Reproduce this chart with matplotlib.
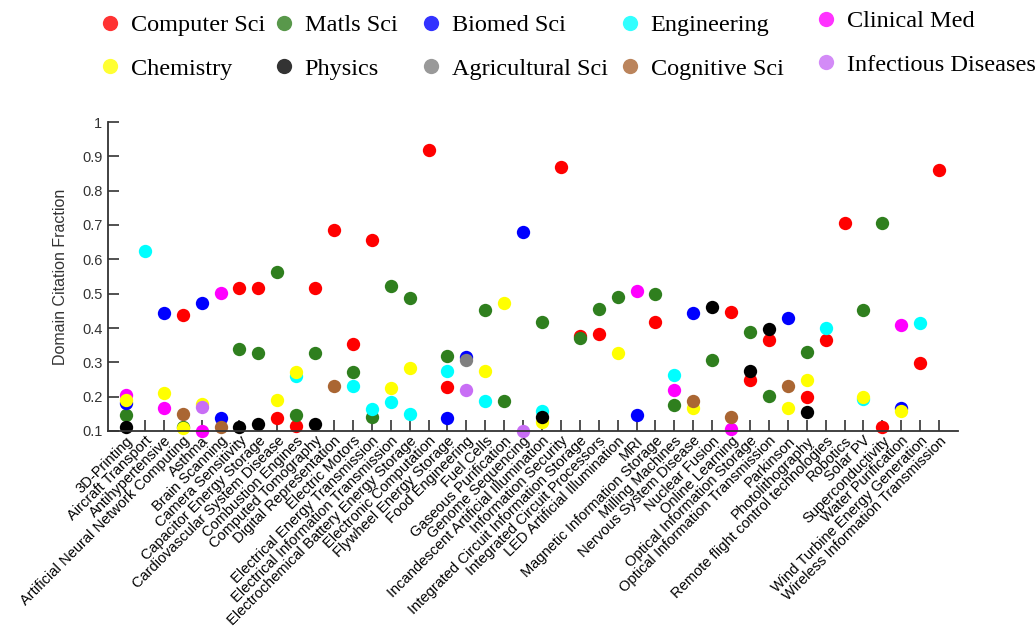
import matplotlib
matplotlib.use("Agg")
import matplotlib.pyplot as plt
from matplotlib.lines import Line2D
import numpy as np

nan = np.nan

categories = [
    "3D-Printing", "Aircraft Transport", "Antihypertensive",
    "Artificial Neural Network Computing", "Asthma", "Brain Scanning",
    "Camera Sensitivity", "Capacitor Energy Storage",
    "Cardiovascular System Disease", "Combustion Engines", "Computed Tomography",
    "Digital Representation", "Electric Motors", "Electrical Energy Transmission",
    "Electrical Information Transmission", "Electrochemical Battery Energy Storage",
    "Electronic Computation", "Flywheel Energy Storage", "Food Engineering",
    "Fuel Cells", "Gaseous Purification", "Genome Sequencing",
    "Incandescent Artificial Illumination", "Information Security",
    "Integrated Circuit Information Storage", "Integrated Circuit Processors",
    "LED Artificial Illumination", "MRI", "Magnetic Information Storage",
    "Milling Machines", "Nervous System Disease", "Nuclear Fusion",
    "Online Learning", "Optical Information Storage",
    "Optical Information Transmission", "Parkinson", "Photolithography",
    "Remote flight control technologies", "Robotics", "Solar PV",
    "Superconductivity", "Water Purification", "Wind Turbine Energy Generation",
    "Wireless Information Transmission",
]

# index -> value, one dict per field
computer_sci = {3: 0.439, 6: 0.517, 7: 0.517, 8: 0.137, 9: 0.116, 10: 0.516,
                11: 0.686, 12: 0.352, 13: 0.655, 16: 0.918, 17: 0.228, 23: 0.870,
                24: 0.376, 25: 0.383, 28: 0.418, 32: 0.448, 33: 0.249, 34: 0.366,
                36: 0.198, 37: 0.366, 38: 0.706, 40: 0.111, 42: 0.297, 43: 0.861}
matls_sci = {0: 0.146, 3: 0.113, 6: 0.339, 7: 0.327, 8: 0.564, 9: 0.146,
             10: 0.327, 12: 0.271, 13: 0.140, 14: 0.521, 15: 0.486, 17: 0.318,
             19: 0.452, 20: 0.188, 22: 0.418, 24: 0.370, 25: 0.456, 26: 0.491,
             28: 0.500, 29: 0.176, 31: 0.306, 33: 0.387, 34: 0.202, 36: 0.331,
             39: 0.452, 40: 0.706}
biomed_sci = {0: 0.181, 2: 0.444, 4: 0.473, 5: 0.137, 17: 0.137, 18: 0.315,
              21: 0.680, 27: 0.146, 30: 0.443, 35: 0.430, 41: 0.166}
engineering = {1: 0.623, 9: 0.259, 12: 0.232, 13: 0.163, 14: 0.184, 15: 0.150,
               17: 0.275, 19: 0.188, 22: 0.157, 29: 0.262, 37: 0.400, 39: 0.193,
               42: 0.414}
clinical_med = {0: 0.205, 2: 0.168, 4: 0.101, 5: 0.503, 27: 0.507, 29: 0.219,
                32: 0.106, 41: 0.408}
chemistry = {0: 0.189, 2: 0.210, 3: 0.108, 4: 0.179, 8: 0.191, 9: 0.272,
             14: 0.224, 15: 0.283, 19: 0.275, 20: 0.473, 22: 0.127, 26: 0.326,
             30: 0.167, 35: 0.167, 36: 0.249, 39: 0.198, 41: 0.158}
physics = {0: 0.113, 6: 0.113, 7: 0.120, 10: 0.120, 22: 0.142, 31: 0.461,
           33: 0.275, 34: 0.396, 36: 0.155}
agricultural_sci = {18: 0.306}
cognitive_sci = {3: 0.150, 5: 0.111, 11: 0.232, 30: 0.188, 32: 0.142, 35: 0.232}
infectious = {4: 0.171, 18: 0.218, 21: 0.101}

fields = ["Computer Sci", "Matls Sci", "Biomed Sci", "Engineering", "Clinical Med",
          "Chemistry", "Physics", "Agricultural Sci", "Cognitive Sci",
          "Infectious Diseases"]
series = [computer_sci, matls_sci, biomed_sci, engineering, clinical_med,
          chemistry, physics, agricultural_sci, cognitive_sci, infectious]
colors = ["#ff0000", "#2f7f1e", "#0000ff", "#00ffff", "#ff00ff",
          "#ffff00", "#000000", "#808080", "#aa6633", "#c86ef5"]


def to_array(d):
    y = np.full(len(categories), nan)
    for k, v in d.items():
        y[k] = v
    return y


plt.rcParams["font.family"] = ["Liberation Sans", "DejaVu Sans"]

fig = plt.figure(figsize=(10.36, 6.26), dpi=100)
W, H = 1036.0, 626.0
ax = fig.add_axes([108 / W, 1 - 431 / H, (958 - 108) / W, (431 - 122) / H])

x = np.arange(len(categories))
for name, d, c in zip(fields, series, colors):
    ax.plot(x, to_array(d), "o", color=c, markersize=9.6, markeredgewidth=0,
            clip_on=False)

ax.set_xlim(-0.95, 44.0)
ax.set_ylim(0.1, 1.0)
ax.set_yticks(np.arange(0.1, 1.01, 0.1))
ax.set_yticklabels(["0.1", "0.2", "0.3", "0.4", "0.5", "0.6", "0.7", "0.8", "0.9", "1"])
ax.set_xticks(x)
ax.set_xticklabels(categories, rotation=45, ha="right", rotation_mode="anchor",
                   fontsize=10.5)
ax.tick_params(axis="y", direction="in", length=8, width=1.2, colors="#333333",
               labelsize=10.5, pad=4)
ax.tick_params(axis="x", direction="in", length=8, width=1.2, color="#333333",
               pad=2)
for s in ["top", "right"]:
    ax.spines[s].set_visible(False)
for s in ["left", "bottom"]:
    ax.spines[s].set_color("#333333")
    ax.spines[s].set_linewidth(1.3)
ax.set_ylabel("Domain Citation Fraction", fontsize=11.5, color="#333333",
              labelpad=10)

# legend: five separate columns so each one sits where it does in the original
col_x = [110, 284, 431, 630, 826]
col_top = [14, 14, 14, 14, 10]
fs = 17.5
fs_px = fs * 100 / 72.0
for j in range(5):
    hs = []
    for k in (j, j + 5):
        hs.append(Line2D([], [], marker="o", linestyle="none", color=colors[k],
                         alpha=0.8, markersize=11, markeredgewidth=0,
                         label=fields[k]))
    fig.legend(handles=hs, loc="upper left",
               bbox_to_anchor=((col_x[j] - 0.4 * fs_px) / W, 1 - col_top[j] / H),
               frameon=False, borderpad=0, borderaxespad=0, handlelength=0.8,
               handletextpad=0.45, labelspacing=0.9,
               prop={"family": "Liberation Serif", "size": fs})

fig.savefig("out.png", dpi=100)
